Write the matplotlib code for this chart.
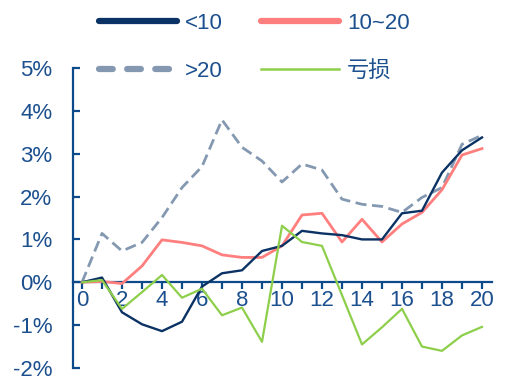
import matplotlib
matplotlib.use("Agg")
import matplotlib.pyplot as plt
from matplotlib.lines import Line2D
from matplotlib.ticker import FuncFormatter, MultipleLocator

plt.rcParams['font.family'] = ['Liberation Sans', 'Noto Sans CJK SC', 'DejaVu Sans']

x = list(range(21))
lt10 = [0.00, 0.11, -0.70, -0.98, -1.14, -0.92, -0.10, 0.21, 0.28, 0.73, 0.85,
        1.20, 1.14, 1.10, 1.00, 1.00, 1.61, 1.67, 2.56, 3.08, 3.38]
mid = [0.00, 0.02, -0.03, 0.38, 0.99, 0.93, 0.85, 0.64, 0.58, 0.58, 0.85,
       1.57, 1.61, 0.94, 1.47, 0.94, 1.36, 1.63, 2.16, 2.97, 3.12]
gt20 = [0.00, 1.14, 0.73, 0.93, 1.51, 2.21, 2.70, 3.79, 3.15, 2.83, 2.34,
        2.76, 2.62, 1.94, 1.82, 1.77, 1.63, 1.98, 2.21, 3.22, 3.43]
loss = [0.00, 0.05, -0.62, -0.23, 0.17, -0.36, -0.15, -0.77, -0.59, -1.39, 1.32,
        0.94, 0.85, -0.30, -1.45, -1.05, -0.62, -1.50, -1.60, -1.24, -1.04]
labels = ['<10', '10~20', '>20', '亏损']

navy = '#0B3264'
red = '#FF7F7F'
grey = '#8499B1'
green = '#8DCF4B'
txt = '#1B4F8E'
axc = '#0D4A8A'

fig = plt.figure(figsize=(5.07, 3.90), dpi=100)
ax = fig.add_axes([73/507, 1-368/390, (492-73)/507, (368-68)/390])

ax.plot(x, gt20, color=grey, lw=2.0, dashes=(4, 2), zorder=3)
ax.plot(x, mid, color=red, lw=2.0, zorder=4)
ax.plot(x, lt10, color=navy, lw=1.7, zorder=5)
ax.plot(x, loss, color=green, lw=1.6, zorder=6)

ax.set_xlim(-0.45, 20.5)
ax.set_ylim(-2, 5)
for s in ['top', 'right']:
    ax.spines[s].set_visible(False)
ax.spines['bottom'].set_position(('data', 0))
ax.spines['bottom'].set_color(axc)
ax.spines['left'].set_color(axc)
ax.spines['bottom'].set_linewidth(1.6)
ax.spines['left'].set_linewidth(1.6)
ax.spines['left'].set_bounds(-2, 5)
ax.spines['bottom'].set_bounds(-0.45, 20.5)

ax.xaxis.set_major_locator(MultipleLocator(2))
ax.xaxis.set_minor_locator(MultipleLocator(1))
ax.yaxis.set_major_locator(MultipleLocator(1))
ax.yaxis.set_major_formatter(FuncFormatter(lambda v, p: f'{v:.0f}%'))
ax.tick_params(axis='x', which='both', direction='out', length=5, width=1.6,
               color=axc, labelcolor=txt, labelsize=16, pad=0.5)
ax.tick_params(axis='y', direction='in', length=5, width=1.6,
               color=axc, labelcolor=txt, labelsize=16, pad=15)

handles = [
    Line2D([], [], color=navy, lw=4.5, solid_capstyle='round'),
    Line2D([], [], color=grey, lw=4.5, dashes=(2.2, 2.3), dash_capstyle='round'),
    Line2D([], [], color=red, lw=4.5, solid_capstyle='round'),
    Line2D([], [], color=green, lw=1.8),
]
leg_labels = [labels[0], labels[2], labels[1], labels[3]]
leg = fig.legend(handles, leg_labels, loc='upper left', bbox_to_anchor=(99/507, 1-13/390),
                 ncol=2, frameon=False, fontsize=16, handlelength=3.5,
                 handletextpad=0.35, columnspacing=1.75, labelspacing=1.2,
                 borderpad=0, borderaxespad=0)
for t in leg.get_texts():
    t.set_color(txt)

fig.savefig('out.png', dpi=100)
